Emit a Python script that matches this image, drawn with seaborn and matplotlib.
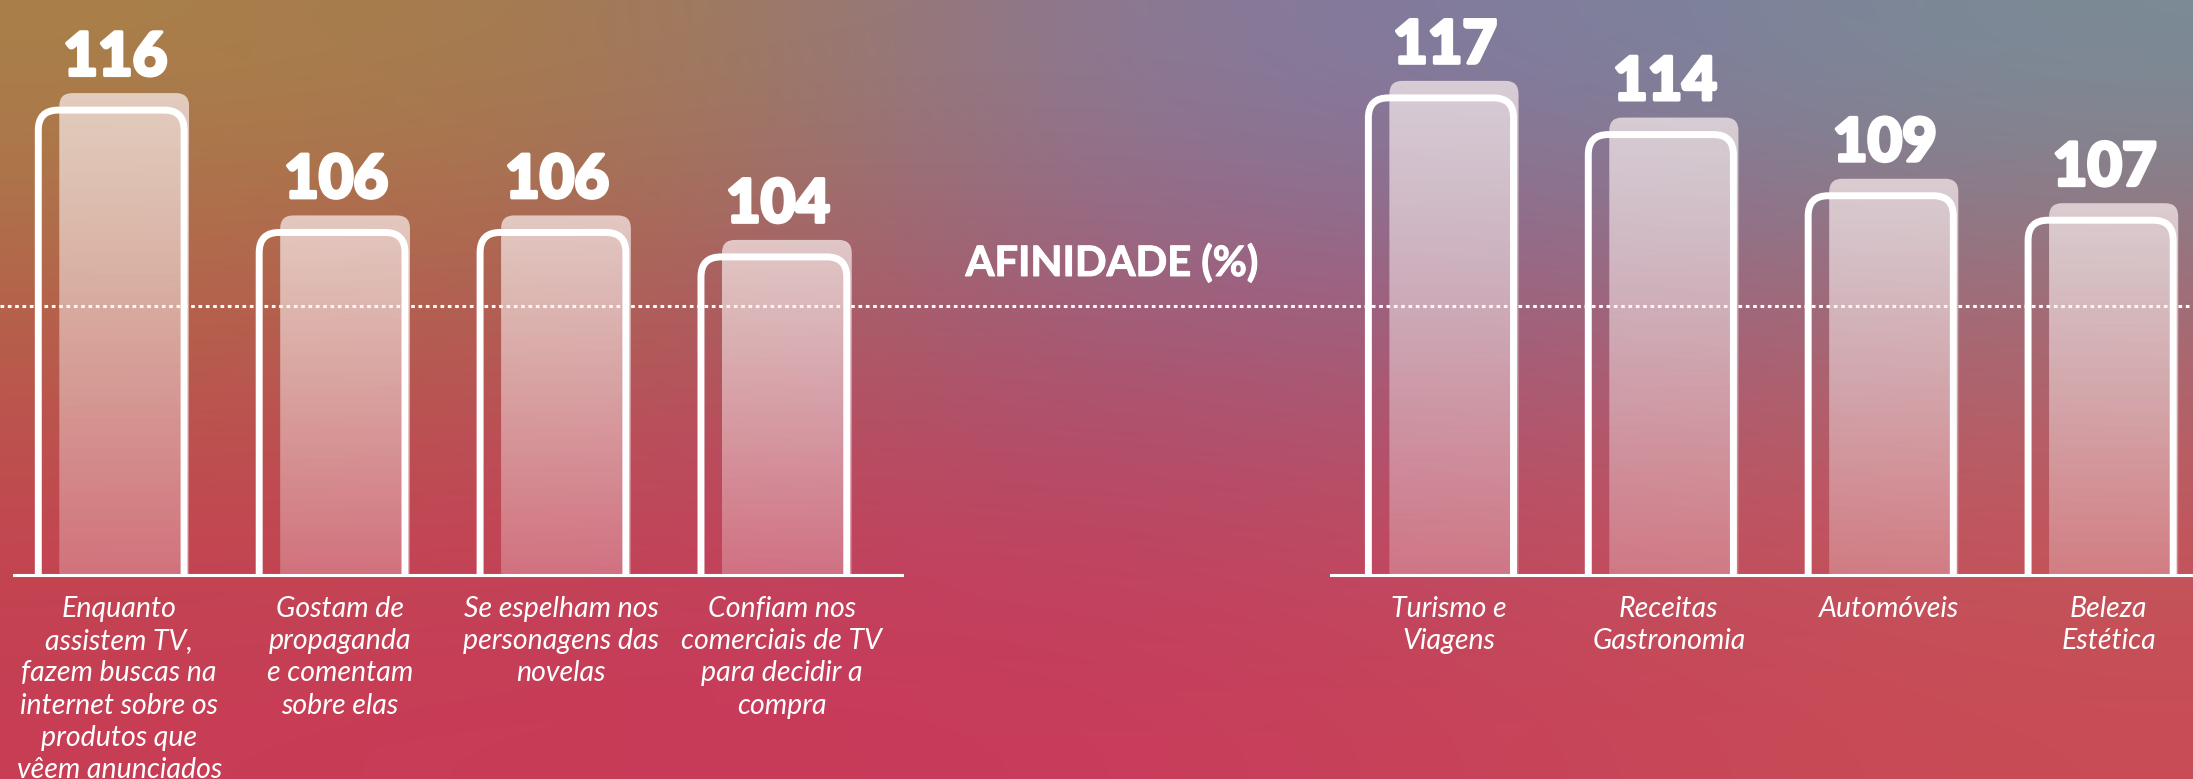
import numpy as np
import pandas as pd
import matplotlib
matplotlib.use("Agg")
import matplotlib.pyplot as plt
import matplotlib.transforms as mtransforms
import matplotlib.patheffects as pe
from matplotlib.patches import FancyBboxPatch
from matplotlib.colors import to_rgb
import seaborn as sns

# --- data -------------------------------------------------------------------
habitos = [
    "Enquanto\nassistem TV,\nfazem buscas na\ninternet sobre os\nprodutos que\nvêem anunciados",
    "Gostam de\npropaganda\ne comentam\nsobre elas",
    "Se espelham nos\npersonagens das\nnovelas",
    "Confiam nos\ncomerciais de TV\npara decidir a\ncompra",
]
habitos_afinidade = [116, 106, 106, 104]

interesses = ["Turismo e\nViagens", "Receitas\nGastronomia", "Automóveis", "Beleza\nEstética"]
interesses_afinidade = [117, 114, 109, 107]

titulo = "AFINIDADE (%)"
referencia = 100

# --- layout -----------------------------------------------------------------
W, H, DPI = 2193, 779, 100
Y_MIN, Y_MAX = 78, 125
BAR_W = 0.66

bg_colors = [
    ["#a98049", "#a47a52", "#8a789a", "#7e7ca0", "#7a8c96"],
    ["#b4644a", "#ae5f56", "#9d5f80", "#9a6482", "#a06e78"],
    ["#c04a4e", "#c0475a", "#b84766", "#bc5064", "#c05a5e"],
    ["#c73d55", "#c83a58", "#c83b5c", "#c84458", "#c84c55"],
]

sns.set_theme(style="white")
plt.rcParams["font.family"] = ["Lato", "DejaVu Sans"]

fig = plt.figure(figsize=(W / DPI, H / DPI), dpi=DPI)

# gradient background
bg = fig.add_axes([0, 0, 1, 1])
grid = np.array([[to_rgb(c) for c in row] for row in bg_colors])
bg.imshow(grid, extent=(0, 1, 0, 1), aspect="auto", interpolation="bicubic")
bg.set_xlim(0, 1)
bg.set_ylim(0, 1)
bg.set_axis_off()

base_frac = (H - 575) / H
ax_l = fig.add_axes([14 / W, base_frac, 888 / W, 1 - base_frac])
ax_r = fig.add_axes([1331 / W, base_frac, 862 / W, 1 - base_frac])


def draw_panel(ax, cats, vals, xlim):
    df = pd.DataFrame({"cat": cats, "val": vals})
    sns.barplot(data=df, x="cat", y="val", ax=ax, width=BAR_W, color="white")
    ax.set_xlim(*xlim)
    ax.set_ylim(Y_MIN, Y_MAX)
    ax.set_facecolor("none")

    bbox = ax.get_position()
    px_x = bbox.width * W / (xlim[1] - xlim[0])
    px_y = bbox.height * H / (Y_MAX - Y_MIN)
    asp = px_x / px_y

    grad = np.zeros((80, 1, 4))
    grad[..., :3] = (0.98, 0.93, 0.93)
    grad[:, 0, 3] = np.linspace(0.72, 0.28, 80)

    bars = list(ax.patches)
    for p, v in zip(bars, vals):
        x0, w = p.get_x(), p.get_width()
        p.remove()

        # soft filled bar behind the outline
        sx0 = x0 + 21 / px_x
        sx1 = x0 + w + 5 / px_x
        stop = v + 17 / px_y
        shadow = FancyBboxPatch((sx0, Y_MIN - 5), sx1 - sx0, stop - (Y_MIN - 5),
                                boxstyle=f"round,pad=0,rounding_size={13 / px_x}",
                                mutation_aspect=asp, fc="none", ec="none")
        ax.add_patch(shadow)
        im = ax.imshow(grad, extent=(sx0, sx1, Y_MIN, stop), aspect="auto",
                       origin="upper", zorder=1)
        im.set_clip_path(shadow)

        # white outline, open at the bottom
        outline = FancyBboxPatch((x0, Y_MIN - 5), w, v - (Y_MIN - 5),
                                 boxstyle=f"round,pad=0,rounding_size={20 / px_x}",
                                 mutation_aspect=asp, fc="none", ec="white",
                                 lw=5.0, zorder=2)
        ax.add_patch(outline)

        ax.annotate(str(v), xy=(x0 + w / 2, v), xytext=(3, 38),
                    textcoords="offset points", ha="center", va="center",
                    fontsize=43, fontweight=900, color="white",
                    annotation_clip=False,
                    path_effects=[pe.withStroke(linewidth=2.5, foreground="white")])

    ax.set_xlim(*xlim)
    ax.set_ylim(Y_MIN, Y_MAX)
    ax.set_xlabel("")
    ax.set_ylabel("")
    ax.set_yticks([])
    sns.despine(ax=ax, left=True)
    ax.spines["bottom"].set_color("white")
    ax.spines["bottom"].set_linewidth(2.2)
    ax.tick_params(axis="x", length=0, pad=15, labelcolor="white", labelsize=20.5)
    shift = mtransforms.ScaledTranslation(8 / DPI, 0, fig.dpi_scale_trans)
    for t in ax.get_xticklabels():
        t.set_fontstyle("italic")
        t.set_linespacing(1.3)
        t.set_transform(t.get_transform() + shift)


draw_panel(ax_l, habitos, habitos_afinidade, (-0.44, 3.58))
draw_panel(ax_r, interesses, interesses_afinidade, (-0.5, 3.42))

# dotted reference line across the whole figure at 100
trans = mtransforms.blended_transform_factory(bg.transAxes, ax_l.transData)
bg.plot([0, 1], [referencia, referencia], transform=trans, color="white",
        lw=2.2, ls=(0, (1.2, 1.2)), zorder=3)

fig.text(1112 / W, 1 - 263 / H, titulo, ha="center", va="center",
         fontsize=30, fontweight="bold", color="white",
         path_effects=[pe.withStroke(linewidth=0.8, foreground="white")])

fig.savefig("out.png", dpi=DPI)
